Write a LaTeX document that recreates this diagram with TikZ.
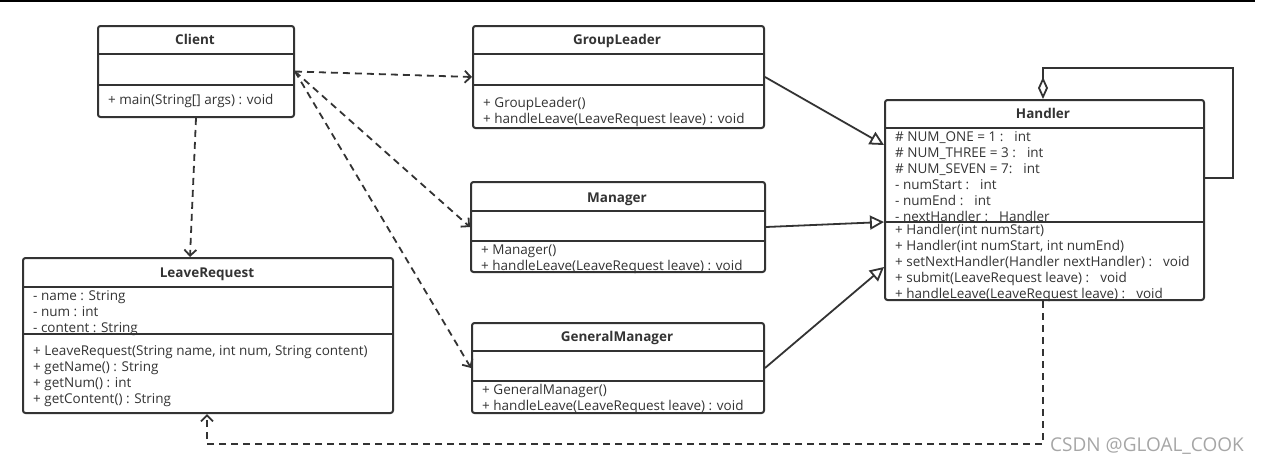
\documentclass[tikz,border=0pt]{standalone}
\usepackage{fontspec}
\setmainfont{Open Sans}
\usetikzlibrary{arrows.meta,calc}
\definecolor{ink}{HTML}{333333}

\begin{document}
\begin{tikzpicture}[x=1pt,y=-1pt,
  every node/.style={font=\fontsize{13.5}{16}\selectfont,text=ink,inner sep=0pt},
  box/.style={draw=ink,line width=2pt,rounded corners=2.5pt,anchor=north west},
  ttl/.style={font=\fontsize{13.5}{16}\selectfont\bfseries,anchor=base},
  txt/.style={anchor=base west},
  sep/.style={draw=ink,line width=2pt},
  dep/.style={ink,line width=1.8pt,dash pattern=on 7pt off 5pt,-{Straight Barb[length=6pt,width=12pt]}},
  gen/.style={ink,line width=1.8pt,-{Triangle[open,length=14pt,width=14pt]}}]
\useasboundingbox (0,0) rectangle (1261,466);
\draw[black,line width=1.5pt] (0,0.75) -- (1255,0.75);

% classes
\node[box,minimum width=196pt,minimum height=91pt] (client) at (97,25) {};
\node[box,minimum width=291pt,minimum height=102pt] (glead) at (472,25) {};
\node[box,minimum width=294pt,minimum height=90pt] (mgr) at (470,181) {};
\node[box,minimum width=292pt,minimum height=90pt] (gmgr) at (471,322) {};
\node[box,minimum width=370pt,minimum height=155pt] (lreq) at (22,257) {};
\node[box,minimum width=319pt,minimum height=200pt] (hdl) at (884,99) {};

% compartments
\foreach \n/\a/\b in {client/54/85,glead/54/85,mgr/211/241,gmgr/351/381,lreq/287/334,hdl/128/222} {
  \draw[sep] (\n.west |- 0,\a) -- (\n.east |- 0,\a);
  \draw[sep] (\n.west |- 0,\b) -- (\n.east |- 0,\b);
}

% titles
\node[ttl] (client-t) at (195,44.5) {Client};
\node[ttl] (glead-t) at (617,44.5) {GroupLeader};
\node[ttl] (mgr-t) at (617,202.5) {Manager};
\node[ttl] (gmgr-t) at (617,341.5) {GeneralManager};
\node[ttl] (lreq-t) at (207,277.5) {LeaveRequest};
\node[ttl] (hdl-t) at (1043,118.5) {Handler};

% members
\node[txt] (client-m0) at (108,104.5) {+ main(String[] args) : void};
\foreach \t [count=\i from 0] in {{+ GroupLeader()},{+ handleLeave(LeaveRequest leave) : void}}
  \node[txt] (glead-m\i) at (483,107+16*\i) {\t};
\foreach \t [count=\i from 0] in {{+ Manager()},{+ handleLeave(LeaveRequest leave) : void}}
  \node[txt] (mgr-m\i) at (481,254.5+16*\i) {\t};
\foreach \t [count=\i from 0] in {{+ GeneralManager()},{+ handleLeave(LeaveRequest leave) : void}}
  \node[txt] (gmgr-m\i) at (482,394.5+16*\i) {\t};
\foreach \t [count=\i from 0] in {{- name : String},{- num : int},{- content : String}}
  \node[txt] (lreq-a\i) at (33,300.5+16*\i) {\t};
\foreach \t [count=\i from 0] in {{+ LeaveRequest(String name, int num, String content)},{+ getName() : String},{+ getNum() : int},{+ getContent() : String}}
  \node[txt] (lreq-m\i) at (33,355.5+16*\i) {\t};
\foreach \t [count=\i from 0] in {{\# NUM\_ONE = 1 :\hspace{11pt}int},{\# NUM\_THREE = 3 :\hspace{11pt}int},{\# NUM\_SEVEN = 7:\hspace{11pt}int},{- numStart :\hspace{11pt}int},{- numEnd :\hspace{11pt}int},{- nextHandler :\hspace{11pt}Handler}}
  \node[txt] (hdl-a\i) at (895,141.5+16*\i) {\t};
\foreach \t [count=\i from 0] in {{+ Handler(int numStart)},{+ Handler(int numStart, int numEnd)},{+ setNextHandler(Handler nextHandler) :\hspace{11pt}void},{+ submit(LeaveRequest leave) :\hspace{11pt}void},{+ handleLeave(LeaveRequest leave) :\hspace{11pt}void}}
  \node[txt] (hdl-m\i) at (895,234.5+16*\i) {\t};

% dependencies
\draw[dep] (client.south) -- ($(lreq.north west)+(168,0)$);
\foreach \x in {glead,mgr,gmgr} \draw[dep] (client.east) -- (\x.west);
\draw[dep] ($(hdl.south west)+(159,0)$) -- ++(0,143) -| ($(lreq.south west)+(185,0)$);

% generalisations
\draw[gen] (glead.east) -- ($(hdl.north west)+(0,46)$);
\draw[gen] (mgr.east) -- ($(hdl.north west)+(0,123)$);
\draw[gen] (gmgr.east) -- ($(hdl.north west)+(0,168)$);

% self aggregation
\coordinate (loop) at (1233,68);
\draw[ink,line width=1.8pt,{Diamond[open,length=22pt,width=10pt]}-] ($(hdl.north west)+(159,0)$) |- (loop) |- ($(hdl.north east)+(0,79)$);

\node[anchor=base west,font=\fontsize{19}{22}\selectfont,text=black!35] (wm) at (1050,451) {CSDN @GLOAL\_COOK};
\end{tikzpicture}
\end{document}
